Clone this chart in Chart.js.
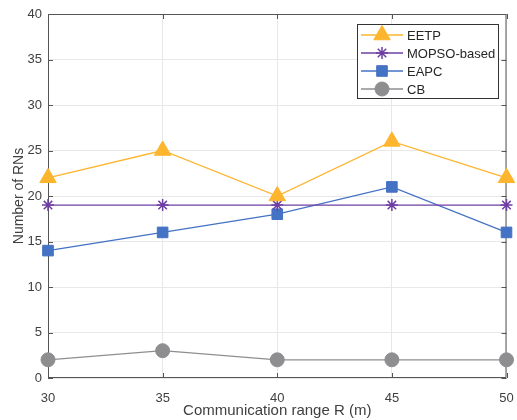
<!DOCTYPE html>
<html>
<head>
<meta charset="utf-8">
<script src="https://cdn.jsdelivr.net/npm/chart.js@4/dist/chart.umd.min.js"></script>
<style>
  html, body { margin: 0; padding: 0; background: #fff; }
  #wrap { width: 517px; height: 420px; position: relative; }
</style>
</head>
<body>
<div id="wrap"><canvas id="chart" width="517" height="420"></canvas></div>
<script>
const ranges = [30, 35, 40, 45, 50];
const eetp = [22, 25, 20, 26, 22];
const mopso = [19, 19, 19, 19, 19];
const eapc = [14, 16, 18, 21, 16];
const cb = [2, 3, 2, 2, 2];
const yTicks = [0, 5, 10, 15, 20, 25, 30, 35, 40];

const FONT = 'Liberation Sans, Arial, sans-serif';
const AXIS = '#555555';
const NO_PAD = () => ({ left: 0, top: 0, right: 0, bottom: 0 });

function points(values) {
  return values.map((v, i) => ({ x: ranges[i], y: v }));
}

function series(label, values, color, style, radius) {
  return {
    label: label,
    data: points(values),
    borderColor: color,
    backgroundColor: color,
    pointBorderColor: color,
    pointBackgroundColor: color,
    pointStyle: style,
    pointRadius: radius,
    pointBorderWidth: style === 'star' ? 1.5 : 1,
    borderWidth: 1.3,
    tension: 0,
    clip: false
  };
}

// box around the plot with inward ticks, MATLAB style
const frame = {
  id: 'frame',
  beforeDatasetsDraw(chart) {
    const { ctx, chartArea: a, scales } = chart;
    ctx.save();
    ctx.strokeStyle = AXIS;
    ctx.lineWidth = 1;
    ctx.beginPath();
    ctx.moveTo(a.left + 0.5, a.top + 0.5);
    ctx.lineTo(a.right - 0.5, a.top + 0.5);
    ctx.lineTo(a.right - 0.5, a.bottom - 0.5);
    ctx.lineTo(a.left + 0.5, a.bottom - 0.5);
    ctx.closePath();
    const len = 5;
    ranges.forEach((r) => {
      const x = Math.round(scales.x.getPixelForValue(r)) + 0.5;
      ctx.moveTo(x, a.bottom);
      ctx.lineTo(x, a.bottom - len);
      ctx.moveTo(x, a.top);
      ctx.lineTo(x, a.top + len);
    });
    yTicks.forEach((t) => {
      const y = Math.round(scales.y.getPixelForValue(t)) + 0.5;
      ctx.moveTo(a.left, y);
      ctx.lineTo(a.left + len, y);
      ctx.moveTo(a.right, y);
      ctx.lineTo(a.right - len, y);
    });
    ctx.stroke();
    ctx.restore();
  }
};

// legend box with line + marker samples
const boxLegend = {
  id: 'boxLegend',
  afterDraw(chart) {
    const { ctx } = chart;
    const left = 357, top = 24, width = 141, height = 74;
    ctx.save();
    ctx.fillStyle = '#ffffff';
    ctx.fillRect(left, top, width, height);
    ctx.strokeStyle = '#333333';
    ctx.lineWidth = 1;
    ctx.strokeRect(left + 0.5, top + 0.5, width, height);
    ctx.font = '13px ' + FONT;
    ctx.textBaseline = 'middle';
    chart.data.datasets.forEach((ds, i) => {
      const y = top + 11 + i * 18;
      ctx.strokeStyle = ds.borderColor;
      ctx.lineWidth = ds.borderWidth;
      ctx.beginPath();
      ctx.moveTo(left + 4, y);
      ctx.lineTo(left + 46, y);
      ctx.stroke();
      ctx.fillStyle = ds.backgroundColor;
      ctx.strokeStyle = ds.borderColor;
      ctx.lineWidth = ds.pointBorderWidth;
      Chart.helpers.drawPoint(ctx, {
        pointStyle: ds.pointStyle,
        radius: ds.pointRadius,
        borderWidth: ds.pointBorderWidth,
        rotation: 0
      }, left + 25, y);
      ctx.fillStyle = '#262626';
      ctx.fillText(ds.label, left + 50, y + 1);
    });
    ctx.restore();
  }
};

new Chart(document.getElementById('chart'), {
  type: 'line',
  data: {
    datasets: [
      series('EETP', eetp, '#FDB52E', 'triangle', 9.5),
      series('MOPSO-based', mopso, '#6E3FA3', 'star', 6),
      series('EAPC', eapc, '#4472C4', 'rect', 7.5),
      series('CB', cb, '#8E8E90', 'circle', 7)
    ]
  },
  options: {
    responsive: false,
    animation: false,
    layout: { padding: { left: 0, right: 8, top: 14, bottom: 0 } },
    plugins: { legend: { display: false }, tooltip: { enabled: false } },
    scales: {
      x: {
        type: 'linear',
        min: 30,
        max: 50,
        afterFit(scale) {
          scale.height = 42;
          scale.getPadding = NO_PAD;
        },
        afterBuildTicks(scale) { scale.ticks = ranges.map((v) => ({ value: v })); },
        grid: { color: '#e8e8e8', drawTicks: false },
        border: { display: false },
        ticks: { padding: 13, maxRotation: 0, color: '#404040', font: { family: FONT, size: 13 } },
        title: {
          display: true,
          text: 'Communication range R (m)',
          color: '#404040',
          font: { family: FONT, size: 15 },
          padding: { top: 0, bottom: 0 }
        }
      },
      y: {
        min: 0,
        max: 40,
        afterFit(scale) {
          scale.width = 48;
          scale.getPadding = NO_PAD;
        },
        afterBuildTicks(scale) { scale.ticks = yTicks.map((v) => ({ value: v })); },
        grid: { color: '#e8e8e8', drawTicks: false },
        border: { display: false },
        ticks: { padding: 6, color: '#404040', font: { family: FONT, size: 13 } },
        title: {
          display: true,
          text: 'Number of RNs',
          color: '#404040',
          font: { family: FONT, size: 14 },
          padding: { top: 11, bottom: 0 }
        }
      }
    }
  },
  plugins: [frame, boxLegend]
});
</script>
</body>
</html>
